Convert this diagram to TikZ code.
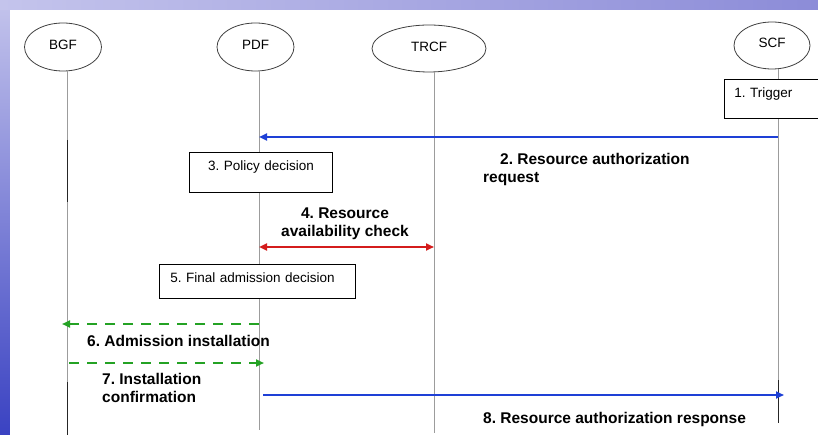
\documentclass[tikz,border=0pt]{standalone}
\usepackage{fontspec}
\setmainfont{Liberation Sans}
\usetikzlibrary{arrows.meta,shapes.geometric}
\frenchspacing
\definecolor{bgA}{HTML}{C4C4EC}
\definecolor{bgB}{HTML}{8C8CD8}
\definecolor{bgC}{HTML}{3A42C2}
\definecolor{msgblue}{HTML}{1E40D6}
\definecolor{msgred}{HTML}{D41C1C}
\definecolor{msggreen}{HTML}{24A224}
\definecolor{lifegray}{HTML}{9C9C9C}
\tikzset{
  entity/.style={ellipse, draw=black!75, line width=0.8pt, inner sep=0pt,
    font=\fontsize{13.5}{15}\selectfont},
  life/.style={draw=lifegray, line width=1pt},
  lifedark/.style={draw=black!85, line width=1pt},
  stepbox/.style={draw=black, line width=0.9pt, fill=white,
    font=\fontsize{13.5}{15}\selectfont, text height=10pt, inner ysep=8pt},
  lbl/.style={font=\bfseries\fontsize{15.5}{18}\selectfont, inner sep=0pt},
  bluemsg/.style={draw=msgblue, line width=2.2pt, -{Triangle[length=8pt,width=7pt]}},
  redmsg/.style={draw=msgred, line width=2.2pt, {Triangle[length=8pt,width=7pt]}-{Triangle[length=8pt,width=7pt]}},
  greenmsg/.style={draw=msggreen, line width=2.6pt, dash pattern=on 10pt off 8pt, -{Triangle[length=8pt,width=7pt]}},
}
\begin{document}
\begin{tikzpicture}[x=1pt,y=-1pt]
\useasboundingbox (0,0) rectangle (818,435);
% slide background
\shade[top color=bgA, bottom color=bgC] (0,0) rectangle (10,435);
\shade[left color=bgA, right color=bgB] (0,0) rectangle (818,10);
\fill[white] (10,10) rectangle (818,435);

% entities
\node[entity, minimum width=77pt, minimum height=48pt] (bgf) at (63,47) {\raisebox{4pt}{BGF}};
\node[entity, minimum width=77pt, minimum height=48pt] (pdf) at (255.5,47) {\raisebox{4pt}{PDF}};
\node[entity, minimum width=114pt, minimum height=47pt] (trcf) at (429,48.5) {\raisebox{4pt}{TRCF}};
\node[entity, minimum width=76pt, minimum height=47pt] (scf) at (772,45.5) {\raisebox{5pt}{SCF}};

% lifelines
\coordinate (bgfT) at (67,70.5);   \coordinate (bgfB) at (67,435);
\coordinate (pdfT) at (259,70.5);  \coordinate (pdfB) at (259,430);
\coordinate (trcfT) at (434,72);   \coordinate (trcfB) at (434,433);
\coordinate (scfT) at (778,69);    \coordinate (scfB) at (778,423);
\draw[life] (bgfT) -- (bgfB);
\draw[life] (pdfT) -- (pdfB);
\draw[life] (trcfT) -- (trcfB);
\draw[life] (scfT) -- (scfB);
% darker stretches of the lifelines
\coordinate (bgfD1) at (67,140); \coordinate (bgfD2) at (67,202);
\coordinate (bgfD3) at (67,382); \coordinate (scfD) at (778,380);
\draw[lifedark] (bgfD1) -- (bgfD2);
\draw[lifedark] (bgfD3) -- (bgfB);
\draw[lifedark] (scfD) -- (scfB);

% boxes
\node[stepbox, anchor=north west, text width=74pt, inner xsep=10pt, text depth=13pt, align=left] (trig) at (724,79) {1. Trigger};
\node[stepbox, anchor=north west, text width=123pt, inner xsep=10pt, text depth=14pt, align=center] (pol) at (189,152) {3. Policy decision};
\node[stepbox, anchor=north west, text width=174pt, inner xsep=11pt, text depth=8pt, align=left] (fin) at (159,264) {5. Final admission decision};

% message end points
\coordinate (m2s) at (778,137);  \coordinate (m2e) at (259,137);
\coordinate (m4s) at (259,247);  \coordinate (m4e) at (434,247);
\coordinate (m6s) at (259,324);  \coordinate (m6e) at (62,324);
\coordinate (m7s) at (69,363);   \coordinate (m7e) at (264,363);
\coordinate (m8s) at (263,395);  \coordinate (m8e) at (784,395);

\draw[bluemsg] (m2s) -- (m2e);
\draw[redmsg] (m4s) -- (m4e);
\draw[greenmsg] (m6s) -- (m6e);
\draw[greenmsg] (m7s) -- (m7e);
\draw[bluemsg] (m8s) -- (m8e);

% labels (base = baseline of last line)
\node[lbl, anchor=base west, align=left] (l2) at (483,183) {\hspace*{17pt}2. Resource authorization\\request};
\node[lbl, anchor=base, align=center] (l4) at (345,237) {4. Resource\\availability check};
\node[lbl, anchor=base west] (l6) at (87,346) {6. Admission installation};
\node[lbl, anchor=base west, align=left] (l7) at (102,402) {7. Installation\\confirmation};
\node[lbl, anchor=base west] (l8) at (483,423) {8. Resource authorization response};
\end{tikzpicture}
\end{document}
